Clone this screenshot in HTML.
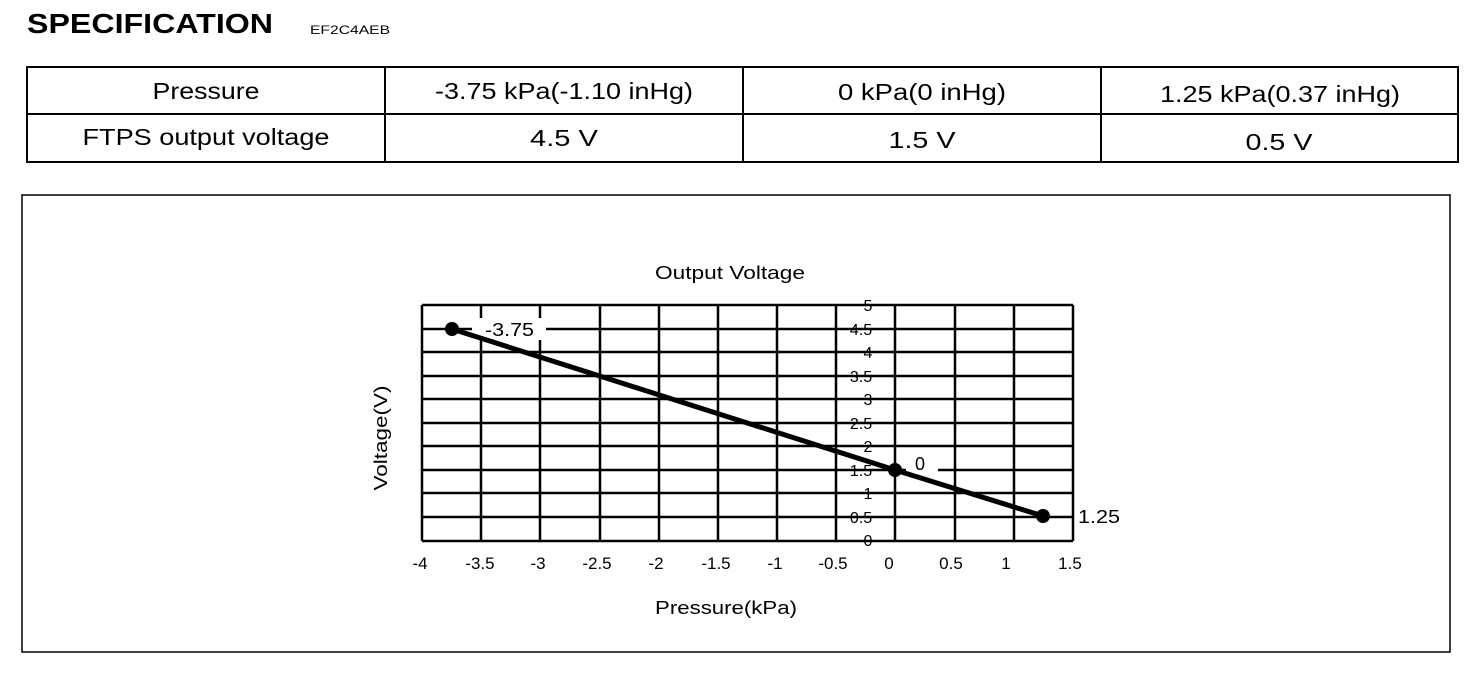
<!DOCTYPE html>
<html><head><style>
body{margin:0;background:#fff;width:1472px;height:672px;overflow:hidden;font-family:"Liberation Sans",Arial,sans-serif;color:#000}
</style></head><body>
<svg width="1472" height="672" xmlns="http://www.w3.org/2000/svg" font-family="Liberation Sans, Arial, sans-serif">
<text x="27" y="33" font-size="28" font-weight="bold" textLength="246" lengthAdjust="spacingAndGlyphs">SPECIFICATION</text>
<text x="310" y="34" font-size="12" textLength="80" lengthAdjust="spacingAndGlyphs">EF2C4AEB</text>
<g stroke="#000" stroke-width="2" fill="none">
<rect x="27" y="67" width="1431" height="95"/>
<line x1="27" y1="114" x2="1458" y2="114"/>
<line x1="385" y1="67" x2="385" y2="162"/>
<line x1="743" y1="67" x2="743" y2="162"/>
<line x1="1101" y1="67" x2="1101" y2="162"/>
</g>
<g font-size="23" text-anchor="middle" lengthAdjust="spacingAndGlyphs">
<text x="206" y="99" textLength="107" lengthAdjust="spacingAndGlyphs">Pressure</text>
<text x="564" y="99" textLength="258" lengthAdjust="spacingAndGlyphs">-3.75 kPa(-1.10 inHg)</text>
<text x="922" y="100" textLength="168" lengthAdjust="spacingAndGlyphs">0 kPa(0 inHg)</text>
<text x="1280" y="102" textLength="240" lengthAdjust="spacingAndGlyphs">1.25 kPa(0.37 inHg)</text>
<text x="206" y="145" textLength="247" lengthAdjust="spacingAndGlyphs">FTPS output voltage</text>
<text x="564" y="146" textLength="68" lengthAdjust="spacingAndGlyphs">4.5  V</text>
<text x="922" y="148" textLength="67" lengthAdjust="spacingAndGlyphs">1.5  V</text>
<text x="1279" y="150" textLength="67" lengthAdjust="spacingAndGlyphs">0.5  V</text>
</g>
<rect x="22" y="195" width="1428" height="457" fill="none" stroke="#000" stroke-width="1.5"/>
<text x="730" y="279" font-size="18" text-anchor="middle" textLength="150" lengthAdjust="spacingAndGlyphs">Output Voltage</text>
<g stroke="#000" stroke-width="2.5">
<line x1="422" y1="305" x2="422" y2="541"/>
<line x1="481" y1="305" x2="481" y2="541"/>
<line x1="540" y1="305" x2="540" y2="541"/>
<line x1="600" y1="305" x2="600" y2="541"/>
<line x1="659" y1="305" x2="659" y2="541"/>
<line x1="718" y1="305" x2="718" y2="541"/>
<line x1="777" y1="305" x2="777" y2="541"/>
<line x1="836" y1="305" x2="836" y2="541"/>
<line x1="895" y1="305" x2="895" y2="541"/>
<line x1="955" y1="305" x2="955" y2="541"/>
<line x1="1014" y1="305" x2="1014" y2="541"/>
<line x1="1073" y1="305" x2="1073" y2="541"/>
<line x1="422" y1="305" x2="1073" y2="305"/>
<line x1="422" y1="329" x2="1073" y2="329"/>
<line x1="422" y1="352" x2="1073" y2="352"/>
<line x1="422" y1="376" x2="1073" y2="376"/>
<line x1="422" y1="399" x2="1073" y2="399"/>
<line x1="422" y1="423" x2="1073" y2="423"/>
<line x1="422" y1="446" x2="1073" y2="446"/>
<line x1="422" y1="470" x2="1073" y2="470"/>
<line x1="422" y1="493" x2="1073" y2="493"/>
<line x1="422" y1="517" x2="1073" y2="517"/>
<line x1="422" y1="541" x2="1073" y2="541"/>
</g>
<g font-size="16" text-anchor="middle">
<text x="868" y="311">5</text><text x="861" y="335">4.5</text><text x="868" y="358">4</text>
<text x="861" y="382">3.5</text><text x="868" y="405">3</text><text x="861" y="429">2.5</text>
<text x="868" y="452">2</text><text x="861" y="476">1.5</text><text x="868" y="499">1</text>
<text x="861" y="523">0.5</text><text x="868" y="546">0</text>
</g>
<rect x="472" y="318" width="74" height="22" fill="#fff"/>
<rect x="906" y="455" width="32" height="22" fill="#fff"/>
<polyline points="452,329 895,470 1043,516" fill="none" stroke="#000" stroke-width="5"/>
<g fill="#000"><circle cx="452" cy="329" r="7"/><circle cx="895" cy="470" r="7"/><circle cx="1043" cy="516" r="7"/></g>
<g font-size="18">
<text x="485" y="336" textLength="49" lengthAdjust="spacingAndGlyphs">-3.75</text>
<text x="915" y="470">0</text>
<text x="1078" y="523" textLength="42" lengthAdjust="spacingAndGlyphs">1.25</text>
</g>
<g font-size="17" text-anchor="middle">
<text x="420" y="569">-4</text><text x="480" y="569">-3.5</text><text x="538" y="569">-3</text>
<text x="597" y="569">-2.5</text><text x="656" y="569">-2</text><text x="716" y="569">-1.5</text>
<text x="775" y="569">-1</text><text x="833" y="569">-0.5</text><text x="889" y="569">0</text>
<text x="951" y="569">0.5</text><text x="1006" y="569">1</text><text x="1070" y="569">1.5</text>
</g>
<text x="726" y="614" font-size="18" text-anchor="middle" textLength="142" lengthAdjust="spacingAndGlyphs">Pressure(kPa)</text>
<text transform="translate(387,438) rotate(-90)" font-size="18" text-anchor="middle" textLength="105" lengthAdjust="spacingAndGlyphs">Voltage(V)</text>
</svg>
</body></html>
